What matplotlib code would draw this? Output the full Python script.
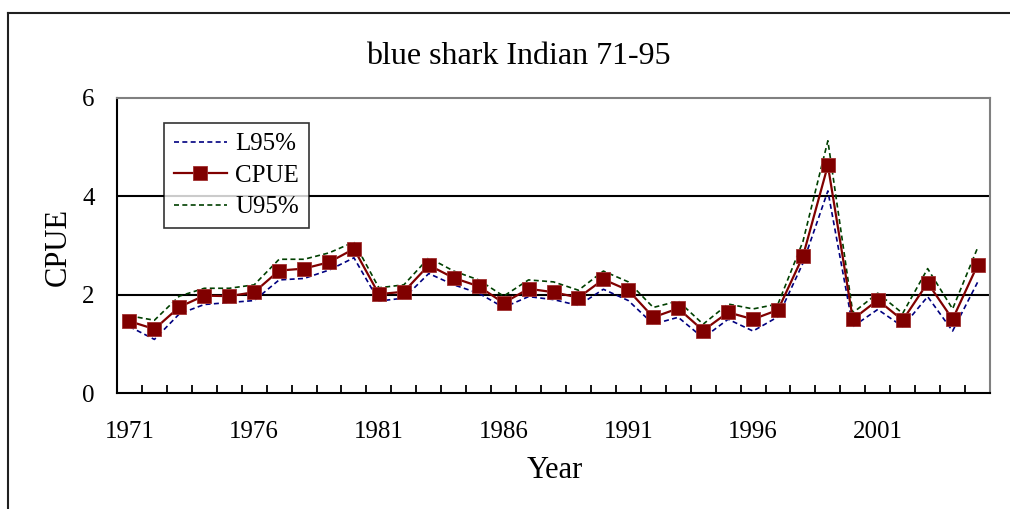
import matplotlib
matplotlib.use("Agg")
import matplotlib.pyplot as plt
from matplotlib.lines import Line2D
from matplotlib.ticker import FixedLocator

years = list(range(1971, 2006))
cpue = [1.46, 1.30, 1.75, 1.98, 1.97, 2.05, 2.49, 2.53, 2.66, 2.93,
        2.01, 2.06, 2.60, 2.34, 2.17, 1.83, 2.12, 2.05, 1.94, 2.31,
        2.09, 1.54, 1.72, 1.27, 1.64, 1.50, 1.69, 2.78, 4.63, 1.50,
        1.89, 1.48, 2.24, 1.50, 2.60]
l95 = [1.35, 1.09, 1.61, 1.80, 1.84, 1.88, 2.30, 2.33, 2.50, 2.75,
       1.87, 1.93, 2.43, 2.20, 2.03, 1.74, 1.96, 1.90, 1.78, 2.11,
       1.88, 1.40, 1.54, 1.12, 1.50, 1.26, 1.55, 2.64, 4.11, 1.35,
       1.70, 1.35, 1.96, 1.26, 2.25]
u95 = [1.57, 1.48, 1.97, 2.13, 2.13, 2.20, 2.72, 2.72, 2.85, 3.07,
       2.14, 2.20, 2.75, 2.48, 2.30, 1.97, 2.30, 2.26, 2.09, 2.48,
       2.26, 1.74, 1.87, 1.40, 1.81, 1.71, 1.81, 3.08, 5.13, 1.63,
       2.03, 1.62, 2.53, 1.71, 2.95]
title = "blue shark Indian 71-95"
y_ticks = [0, 2, 4, 6]

plt.rcParams['font.family'] = ['Liberation Serif', 'DejaVu Serif']

fig = plt.figure(figsize=(10.10, 5.09), dpi=100)
W, H = 1010, 509
ax = fig.add_axes([117 / W, 1 - 393 / H, 873 / W, 295 / H])

x = list(range(len(years)))
ax.plot(x, l95, color='#000080', lw=1.2, ls=(0, (3, 2)), label='L95%', zorder=3)
ax.plot(x, cpue, color='#800000', lw=1.6, marker='s', ms=10,
        markerfacecolor='#800000', markeredgecolor='#a03030', mew=0.6,
        label='CPUE', zorder=4)
ax.plot(x, u95, color='#004000', lw=1.2, ls=(0, (3, 2)), label='U95%', zorder=3)

ax.set_xlim(-0.5, len(years) - 0.5)
ax.set_ylim(0, 6)
ax.set_yticks(y_ticks)
ax.set_yticklabels([str(v) for v in y_ticks])
ax.tick_params(axis='y', length=0, pad=16, labelsize=18)
for v in y_ticks[1:-1]:
    ax.axhline(v, color='black', lw=1.5, zorder=1)

major = [i for i, yv in enumerate(years) if (yv - 1971) % 5 == 0]
ax.set_xticks(major)
ax.set_xticklabels([str(years[i]) for i in major])
ax.xaxis.set_minor_locator(FixedLocator([i - 0.5 for i in range(len(years) + 1)]))
ax.tick_params(axis='x', which='major', length=0, pad=20, labelsize=18)
ax.tick_params(axis='x', which='minor', direction='in', length=6, width=1.3, color='black')

for s in ['top', 'right']:
    ax.spines[s].set_color('#808080')
    ax.spines[s].set_linewidth(1.5)
for s in ['left', 'bottom']:
    ax.spines[s].set_color('black')
    ax.spines[s].set_linewidth(1.5)

fig.text(58 / W, 1 - 247 / H, 'CPUE', rotation=90, ha='center', va='center', fontsize=22)
fig.text(555 / W, 1 - 470 / H, 'Year', ha='center', va='center', fontsize=22)
fig.text(518 / W, 1 - 57 / H, title, ha='center', va='center', fontsize=23)

leg = ax.legend(loc='upper left', bbox_to_anchor=(164 / W, 1 - 123 / H),
                bbox_transform=fig.transFigure, fontsize=18, frameon=True,
                fancybox=False, edgecolor='black', handlelength=2.1,
                labelspacing=0.36, borderpad=0.4, handletextpad=0.35,
                borderaxespad=0)
leg.get_frame().set_linewidth(1.2)
leg.set_zorder(5)

# outer chart border (left and top edges visible)
fig.add_artist(Line2D([8 / W, 8 / W], [0, 1 - 13 / H], transform=fig.transFigure,
                      color='#202020', lw=1.5))
fig.add_artist(Line2D([8 / W, 1], [1 - 13 / H, 1 - 13 / H], transform=fig.transFigure,
                      color='#202020', lw=1.5))

fig.savefig('out.png', dpi=100)
